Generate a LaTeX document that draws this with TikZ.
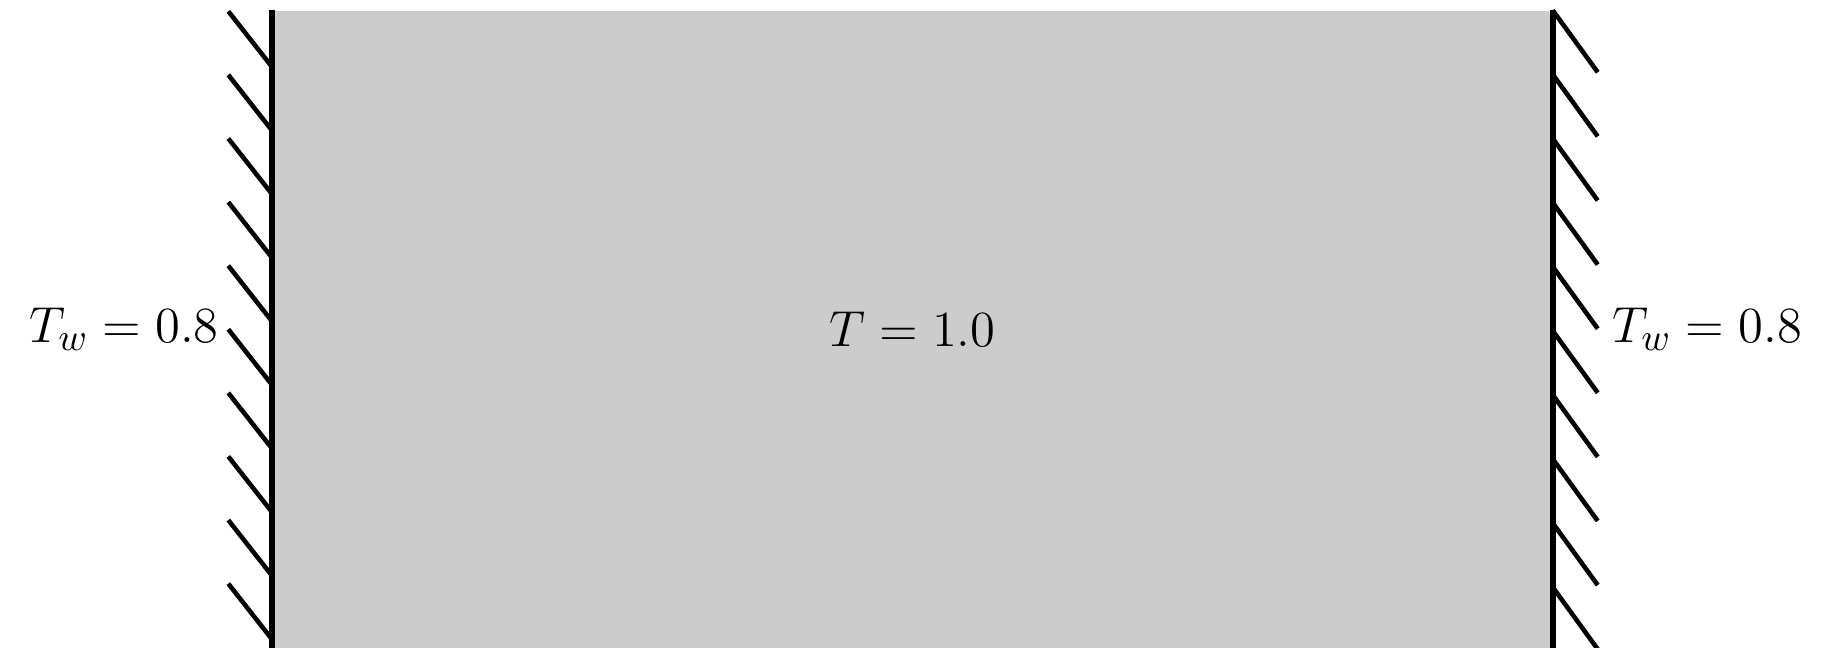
\documentclass[tikz,border=0pt]{standalone}
\usepackage{amsmath}
\usepackage{tikz}
\usetikzlibrary{positioning,calc}
\definecolor{domainGray}{RGB}{204,204,204}
\tikzset{
  domainbox/.style={rectangle,fill=domainGray,inner sep=0pt,
    minimum width=12.79cm,minimum height=6.37cm,font=\fontsize{15}{18}\selectfont},
  wall/.style={draw=black,line width=1.6pt},
  hatch/.style={draw=black,line width=1.3pt},
  tlabel/.style={font=\fontsize{15}{18}\selectfont,inner sep=0pt}
}

\begin{document}
\begin{tikzpicture}
  \useasboundingbox (0,0) rectangle (18.31,6.48);
  \node[domainbox] (domain) at (9.125,3.185) {$T = 1.0$};
  % walls
  \draw[wall] (domain.north west) -- (domain.south west);
  \draw[wall] (domain.north east) -- (domain.south east);
  % hatching
  \foreach \i in {0,...,9} {
    \draw[hatch] ($(domain.north west)+(-0.44,-0.01-0.636*\i)$) -- ++(0.44,-0.56);
    \draw[hatch] ($(domain.north east)+(0,-0.641*\i)$) -- ++(0.45,-0.62);
  }
  \node[tlabel, left=0.53cm of domain.west] (leftT) {$T_w = 0.8$};
  \node[tlabel, right=0.59cm of domain.east] (rightT) {$T_w = 0.8$};
\end{tikzpicture}
\end{document}
